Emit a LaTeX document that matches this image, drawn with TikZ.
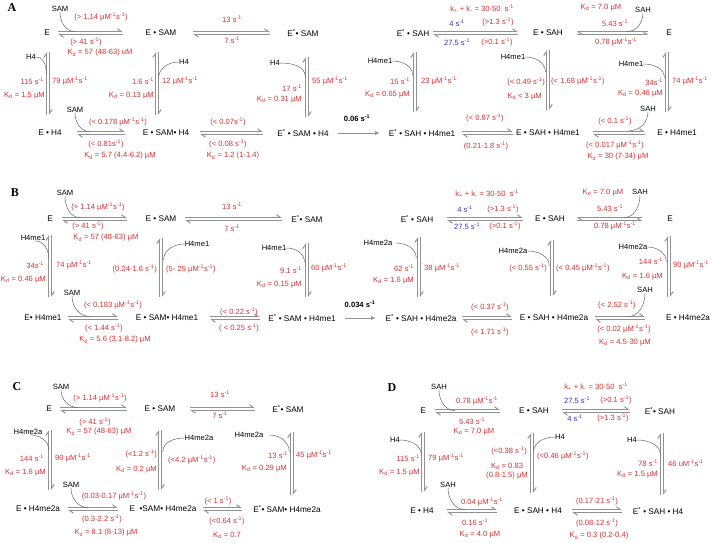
\documentclass[tikz,border=0pt]{standalone}
\usepackage{fontspec}
\setmainfont{Liberation Sans}
\newfontfamily\panelfont{Liberation Serif}
\usepackage{xcolor}
\usetikzlibrary{arrows.meta}

\definecolor{rateRed}{RGB}{214,48,48}
\definecolor{rateBlue}{RGB}{50,50,200}
\definecolor{arrGray}{RGB}{145,145,145}

\newcommand{\perS}{s\textsuperscript{-1}}
\newcommand{\perMS}{µM\textsuperscript{-1}s\textsuperscript{-1}}
\newcommand{\Kd}{K\textsubscript{d}}
\newcommand{\Estar}{E\textsuperscript{*}}
\newcommand{\kpm}{k\textsubscript{+} + k\textsubscript{-} = 30-50\ \ \perS}

\begin{document}
\begin{tikzpicture}[x=1pt,y=-1pt,font=\fontsize{7.6}{9}\selectfont,
    sp/.style={inner sep=0pt,font=\fontsize{8.2}{9.5}\selectfont},
    sub/.style={inner sep=0pt},
    rate/.style={inner sep=0pt,text=rateRed},
    fast/.style={inner sep=0pt,text=rateBlue},
    tag/.style={inner sep=0pt,font=\panelfont\bfseries\fontsize{12}{12}\selectfont},
    eqh/.style={preaction={draw=arrGray,line width=1pt,-{Straight Barb[left,length=4pt,width=6pt]},transform canvas={yshift=1.3pt}},
                preaction={draw=arrGray,line width=1pt,{Straight Barb[left,length=4pt,width=6pt]}-,transform canvas={yshift=-1.3pt}}},
    eqv/.style={preaction={draw=arrGray,line width=1pt,-{Straight Barb[left,length=4pt,width=6pt]},transform canvas={xshift=1.3pt}},
                preaction={draw=arrGray,line width=1pt,{Straight Barb[left,length=4pt,width=6pt]}-,transform canvas={xshift=-1.3pt}}},
    one/.style={draw=arrGray,line width=0.9pt,-{Latex[length=5pt,width=4pt]}},
    bind/.style={draw=black!60,line width=0.5pt}]
  \useasboundingbox (0,0) rectangle (713,542);

  % ---------------- Panel A ----------------
  \node[tag] (tA) at (12,8) {A};
  % species
  \node[sp] (A1) at (47,33) {E};
  \node[sp] (A2) at (161,33) {E \textbullet{} SAM};
  \node[sp] (A3) at (303,33) {\Estar\textbullet{} SAM};
  \node[sp] (A4) at (413,33) {\Estar{} \textbullet{} SAH};
  \node[sp] (A5) at (548,33) {E \textbullet{} SAH};
  \node[sp] (A6) at (669,33) {E};
  \node[sp] (A7) at (50,133) {E \textbullet{} H4};
  \node[sp] (A8) at (166,133) {E \textbullet{} SAM\textbullet{} H4};
  \node[sp] (A9) at (303,133) {\Estar{} \textbullet{} SAM \textbullet{} H4};
  \node[sp] (A10) at (422,133) {\Estar{} \textbullet{} SAH \textbullet{} H4me1};
  \node[sp] (A11) at (548,133) {E \textbullet{} SAH \textbullet{} H4me1};
  \node[sp] (A12) at (677,133) {E \textbullet{} H4me1};
  % horizontal steps
  \path[eqh,shorten <=11pt,shorten >=38pt] (A1.center) -- (A2.center);
  \path[eqh,shorten <=32pt,shorten >=33pt] (A2.center) -- (A3.center);
  \path[eqh,shorten <=20pt,shorten >=30pt] (A4.center) -- (A5.center);
  \path[eqh,shorten <=21pt,shorten >=29pt] (A6.center) -- (A5.center);
  \path[eqh,shorten <=27pt,shorten >=41pt] (A7.center) -- (A8.center);
  \path[eqh,shorten <=34pt,shorten >=40pt] (A8.center) -- (A9.center);
  \draw[one,shorten <=35pt,shorten >=42pt] (A9.center) -- (A10.center);
  \path[eqh,shorten <=40pt,shorten >=35pt] (A10.center) -- (A11.center);
  \path[eqh,shorten <=45pt,shorten >=32pt] (A11.center) -- (A12.center);
  % vertical steps
  \path[eqv,shorten <=19pt,shorten >=18pt] ([xshift=1pt]A1.center) -- ([xshift=1pt]A1.center |- A7.center);
  \path[eqv,shorten <=19pt,shorten >=18pt] ([xshift=-4pt]A2.center) -- ([xshift=-4pt]A2.center |- A8.center);
  \path[eqv,shorten <=24pt,shorten >=16pt] ([xshift=4pt]A3.center) -- ([xshift=4pt]A3.center |- A9.center);
  \path[eqv,shorten <=19pt,shorten >=21pt] ([xshift=2pt]A4.center) -- ([xshift=2pt]A4.center |- A10.center);
  \path[eqv,shorten <=17pt,shorten >=23pt] (A5.center) -- (A11.center);
  \path[eqv,shorten <=19pt,shorten >=21pt] ([xshift=-2pt]A6.center) -- ([xshift=-2pt]A6.center |- A12.center);
  % substrates
  \node[sub] (sA1) at (60,9) {SAM};
  \draw[bind] (sA1.south) to[out=-90,in=180] ++(15,19.7);
  \node[sub] (sA2) at (643,10) {SAH};
  \draw[bind] (sA2.south) to[out=-90,in=0] ++(-16,18.7);
  \node[sub] (sA3) at (31,57) {H4};
  \draw[bind] (sA3.east) to[out=0,in=90] ++(10.3,17);
  \node[sub] (sA4) at (75,110) {SAM};
  \draw[bind] (sA4.south) to[out=-90,in=180] ++(15,18.7);
  \node[sub] (sA5) at (184,62) {H4};
  \draw[bind] (sA5.west) to[out=180,in=90] ++(-20.3,16);
  \node[sub] (sA6) at (275,63) {H4};
  \draw[bind] (sA6.east) to[out=0,in=90] ++(25.3,14);
  \node[sub] (sA7) at (380,61) {H4me1};
  \draw[bind] (sA7.east) to[out=0,in=90] ++(20,14);
  \node[sub] (sA8) at (513,57) {H4me1};
  \draw[bind] (sA8.east) to[out=0,in=90] ++(20,15);
  \node[sub] (sA9) at (631,64) {H4me1};
  \draw[bind] (sA9.east) to[out=0,in=90] ++(21,14);
  \node[sub] (sA10) at (648,109) {SAH};
  \draw[bind] (sA10.south) to[out=-90,in=0] ++(-18,18.7);
  % rates
  \node[rate] (rA1) at (101,17) {(> 1.14 \perMS)};
  \node[rate] (rA2) at (86,42) {(> 41 \perS)};
  \node[rate] (rA3) at (100,53) {\Kd{} = 57 (48-63) uM};
  \node[rate] (rA4) at (232,19) {13 \perS};
  \node[rate] (rA5) at (232,40) {7 \perS};
  \node[rate] (rA6) at (482,9) {\kpm};
  \node[fast] (rA7) at (457,23) {4 \perS};
  \node[rate] (rA8) at (498,22) {(>1.3 \perS)};
  \node[fast] (rA9) at (457,42) {27.5 \perS};
  \node[rate] (rA10) at (497,42) {(>0.1 \perS)};
  \node[rate] (rA11) at (601,8) {\Kd{} = 7.0 µM};
  \node[rate] (rA12) at (615,23) {5.43 \perS};
  \node[rate] (rA13) at (616,42) {0.78 \perMS};
  \node[rate,anchor=east] (rA14) at (44,81) {115 \perS};
  \node[rate,anchor=west] (rA15) at (52,81) {79 \perMS};
  \node[rate,anchor=east] (rA16) at (45,96) {\Kd{} = 1.5 µM};
  \node[rate] (rA17) at (118,122) {(< 0.178 \perMS)};
  \node[rate] (rA18) at (106,144) {(< 0.81\perS)};
  \node[rate] (rA19) at (120,156) {\Kd{} = 5.7 (4.4-6.2) µM};
  \node[rate,anchor=east] (rA20) at (154,81) {1.6 \perS};
  \node[rate,anchor=west] (rA21) at (162,81) {12 \perMS};
  \node[rate,anchor=east] (rA22) at (154,96) {\Kd{} = 0.13 µM};
  \node[rate] (rA23) at (228,122) {(< 0.07\perS)};
  \node[rate] (rA24) at (228,144) {(< 0.08 \perS)};
  \node[rate] (rA25) at (233,156) {\Kd{} = 1.2 (1-1.4)};
  \node[rate,anchor=east] (rA26) at (302,88) {17 \perS};
  \node[rate,anchor=west] (rA27) at (312,81) {55 \perMS};
  \node[rate,anchor=east] (rA28) at (302,100) {\Kd{} = 0.31 µM};
  \node[rate,anchor=east] (rA29) at (410,81) {15 \perS};
  \node[rate,anchor=west] (rA30) at (421,81) {23 \perMS};
  \node[rate,anchor=east] (rA31) at (410,95) {\Kd{} = 0.65 µM};
  \node[sub] (rA32) at (357,118) {\textbf{0.06 \perS}};
  \node[rate,anchor=east] (rA33) at (545,82) {(< 0.49 \perS)};
  \node[rate,anchor=west] (rA34) at (551,81) {(< 1.68 \perMS)};
  \node[rate,anchor=east] (rA35) at (542,97) {\Kd{} < 3 µM};
  \node[rate,anchor=east] (rA36) at (663,82) {34\perS};
  \node[rate,anchor=west] (rA37) at (672,81) {74 \perMS};
  \node[rate,anchor=east] (rA38) at (663,94) {\Kd{} = 0.46 µM};
  \node[rate] (rA39) at (485,118) {(< 0.87 \perS)};
  \node[rate] (rA40) at (486,146) {(0.21-1.8 \perS)};
  \node[rate] (rA41) at (615,121) {(< 0.1 \perS)};
  \node[rate] (rA42) at (615,145) {(< 0.017 \perMS)};
  \node[rate] (rA43) at (618,157) {\Kd{} = 30 (7-34) µM};

  % ---------------- Panel B ----------------
  \node[tag] (tB) at (15,193) {B};
  % species
  \node[sp] (B1) at (50,219) {E};
  \node[sp] (B2) at (161,219) {E \textbullet{} SAM};
  \node[sp] (B3) at (307,219) {\Estar\textbullet{} SAM};
  \node[sp] (B4) at (417,219) {\Estar{} \textbullet{} SAH};
  \node[sp] (B5) at (550,219) {E \textbullet{} SAH};
  \node[sp] (B6) at (670,219) {E};
  \node[sp] (B7) at (43,318) {E\textbullet{} H4me1};
  \node[sp] (B8) at (167,318) {E \textbullet{} SAM\textbullet{} H4me1};
  \node[sp] (B9) at (302,318) {\Estar{} \textbullet{} SAM \textbullet{} H4me1};
  \node[sp] (B10) at (421,318) {\Estar{} \textbullet{} SAH \textbullet{} H4me2a};
  \node[sp] (B11) at (554,318) {E \textbullet{} SAH \textbullet{} H4me2a};
  \node[sp] (B12) at (688,318) {E \textbullet{} H4me2a};
  % horizontal steps
  \path[eqh,shorten <=12pt,shorten >=34pt] (B1.center) -- (B2.center);
  \path[eqh,shorten <=24pt,shorten >=25pt] (B2.center) -- (B3.center);
  \path[eqh,shorten <=30pt,shorten >=27pt] (B4.center) -- (B5.center);
  \path[eqh,shorten <=28pt,shorten >=27pt] (B6.center) -- (B5.center);
  \path[eqh,shorten <=25pt,shorten >=49pt] (B7.center) -- (B8.center);
  \path[eqh,shorten <=43pt,shorten >=42pt] (B8.center) -- (B9.center);
  \draw[one,shorten <=43pt,shorten >=45pt] (B9.center) -- (B10.center);
  \path[eqh,shorten <=41pt,shorten >=42pt] (B10.center) -- (B11.center);
  \path[eqh,shorten <=41pt,shorten >=43pt] (B11.center) -- (B12.center);
  % vertical steps
  \path[eqv,shorten <=16pt,shorten >=21pt] (B1.center) -- (B1.center |- B7.center);
  \path[eqv,shorten <=19pt,shorten >=21pt] (B2.center) -- (B2.center |- B8.center);
  \path[eqv,shorten <=24pt,shorten >=21pt] (B3.center) -- (B3.center |- B9.center);
  \path[eqv,shorten <=18pt,shorten >=21pt] ([xshift=2pt]B4.center) -- ([xshift=2pt]B4.center |- B10.center);
  \path[eqv,shorten <=21pt,shorten >=22pt] ([xshift=2pt]B5.center) -- ([xshift=2pt]B5.center |- B11.center);
  \path[eqv,shorten <=17pt,shorten >=21pt] ([xshift=-1pt]B6.center) -- ([xshift=-1pt]B6.center |- B12.center);
  % substrates
  \node[sub] (sB1) at (65,193) {SAM};
  \draw[bind] (sB1.south) to[out=-90,in=180] ++(15,21.7);
  \node[sub] (sB2) at (640,192) {SAH};
  \draw[bind] (sB2.south) to[out=-90,in=0] ++(-16,22.7);
  \node[sub] (sB3) at (33,238) {H4me1};
  \draw[bind] ([xshift=2pt]sB3.south) to[out=0,in=90] ++(13.7,17);
  \node[sub] (sB4) at (197,244) {H4me1};
  \draw[bind] (sB4.west) to[out=180,in=90] ++(-21,16);
  \node[sub] (sB5) at (274,248) {H4me1};
  \draw[bind] (sB5.east) to[out=0,in=90] ++(18,14);
  \node[sub] (sB6) at (378,243) {H4me2a};
  \draw[bind] ([xshift=3pt]sB6.east) to[out=0,in=90] ++(20.7,15);
  \node[sub] (sB7) at (513,251) {H4me2a};
  \draw[bind] (sB7.east) to[out=0,in=90] ++(21.7,15);
  \node[sub] (sB8) at (633,247) {H4me2a};
  \draw[bind] (sB8.east) to[out=0,in=90] ++(18.7,15);
  \node[sub] (sB9) at (72,293) {SAM};
  \draw[bind] (sB9.south) to[out=-90,in=180] ++(18,20.7);
  \node[sub] (sB10) at (645,290) {SAH};
  \draw[bind] (sB10.south) to[out=-90,in=0] ++(-17,23.7);
  % rates
  \node[rate] (rB1) at (98,207) {(> 1.14 \perMS)};
  \node[rate] (rB2) at (88,226) {(> 41 \perS)};
  \node[rate] (rB3) at (106,238) {\Kd{} = 57 (48-63) µM};
  \node[rate] (rB4) at (232,206) {13 \perS};
  \node[rate] (rB5) at (232,228) {7 \perS};
  \node[rate] (rB6) at (487,194) {\kpm};
  \node[fast] (rB7) at (465,209) {4 \perS};
  \node[rate] (rB8) at (503,209) {(>1.3 \perS)};
  \node[fast] (rB9) at (467,226) {27.5 \perS};
  \node[rate] (rB10) at (505,226) {(>0.1 \perS)};
  \node[rate] (rB11) at (603,193) {\Kd{} = 7.0 µM};
  \node[rate] (rB12) at (610,208) {5.43 \perS};
  \node[rate] (rB13) at (615,226) {0.78 \perMS};
  \node[rate,anchor=east] (rB14) at (44,265) {34\perS};
  \node[rate,anchor=west] (rB15) at (56,265) {74 \perMS};
  \node[rate,anchor=east] (rB16) at (46,280) {\Kd{} = 0.46 µM};
  \node[rate,anchor=east] (rB17) at (157,269) {(0.24-1.6 \perS)};
  \node[rate,anchor=west] (rB18) at (166,269) {(5- 25 \perMS)};
  \node[rate,anchor=east] (rB19) at (302,270) {9.1 \perS};
  \node[rate,anchor=west] (rB20) at (311,268) {60 \perMS};
  \node[rate,anchor=east] (rB21) at (302,285) {\Kd{} = 0.15 µM};
  \node[rate,anchor=east] (rB22) at (414,268) {62 \perS};
  \node[rate,anchor=west] (rB23) at (424,268) {38 \perMS};
  \node[rate,anchor=east] (rB24) at (414,281) {\Kd{} = 1.6 µM};
  \node[rate,anchor=east] (rB25) at (547,268) {(< 0.55 \perS)};
  \node[rate,anchor=west] (rB26) at (556,268) {(< 0.45 \perMS)};
  \node[rate,anchor=east] (rB27) at (663,261) {144 \perS};
  \node[rate,anchor=west] (rB28) at (673,265) {90 \perMS};
  \node[rate,anchor=east] (rB29) at (663,277) {\Kd{} = 1.6 µM};
  \node[rate] (rB30) at (113,305) {(< 0.183 \perMS)};
  \node[rate] (rB31) at (104,328) {(< 1.44 \perS)};
  \node[rate] (rB32) at (115,340) {\Kd{} = 5.6 (3.1-8.2) µM};
  \node[rate] (rB33) at (239,312) {(< 0.22 \perS)};
  \node[rate] (rB34) at (239,328) {( < 0.25 \perS)};
  \node[sub] (rB35) at (360,304) {\textbf{0.034 \perS}};
  \node[rate] (rB36) at (490,307) {(< 0.37 \perS)};
  \node[rate] (rB37) at (490,332) {(< 1.71 \perS)};
  \node[rate] (rB38) at (617,305) {(< 2.52 \perS)};
  \node[rate] (rB39) at (624,329) {(< 0.02 \perMS)};
  \node[rate] (rB40) at (625,343) {\Kd{} = 4.5-30 µM};

  % ---------------- Panel C ----------------
  \node[tag] (tC) at (17,387) {C};
  % species
  \node[sp] (C1) at (49,409) {E};
  \node[sp] (C2) at (160,409) {E \textbullet{} SAM};
  \node[sp] (C3) at (288,409) {\Estar\textbullet{} SAM};
  \node[sp] (C4) at (38,509) {E \textbullet{} H4me2a};
  \node[sp] (C5) at (163,509) {E \ \textbullet{}SAM\textbullet{} H4me2a};
  \node[sp] (C6) at (287,509) {\Estar\textbullet{} SAM\textbullet{} H4me2a};
  % horizontal steps
  \path[eqh,shorten <=11pt,shorten >=33pt] (C1.center) -- (C2.center);
  \path[eqh,shorten <=30pt,shorten >=33pt] (C2.center) -- (C3.center);
  \path[eqh,shorten <=30pt,shorten >=45pt] (C4.center) -- (C5.center);
  \path[eqh,shorten <=40pt,shorten >=45pt] (C5.center) -- (C6.center);
  % vertical steps
  \path[eqv,shorten <=21pt,shorten >=19pt] ([xshift=1pt]C1.center) -- ([xshift=1pt]C1.center |- C4.center);
  \path[eqv,shorten <=21pt,shorten >=19pt] (C2.center) -- (C2.center |- C5.center);
  \path[eqv,shorten <=23pt,shorten >=14pt] ([xshift=4pt]C3.center) -- ([xshift=4pt]C3.center |- C6.center);
  % substrates
  \node[sub] (sC1) at (61,387) {SAM};
  \draw[bind] (sC1.south) to[out=-90,in=180] ++(17,17.7);
  \node[sub] (sC2) at (28,432) {H4me2a};
  \draw[bind] ([xshift=2pt]sC2.south) to[out=0,in=90] ++(18.7,15);
  \node[sub] (sC3) at (199,438) {H4me2a};
  \draw[bind] (sC3.west) to[out=180,in=90] ++(-21.7,14);
  \node[sub] (sC4) at (249,435) {H4me2a};
  \draw[bind] ([xshift=6pt]sC4.east) to[out=0,in=90] ++(19.7,17);
  \node[sub] (sC5) at (71,485) {SAM};
  \draw[bind] (sC5.south) to[out=-90,in=180] ++(17,19.7);
  % rates
  \node[rate] (rC1) at (100,398) {(> 1.14 \perMS)};
  \node[rate] (rC2) at (95,422) {(> 41 \perS)};
  \node[rate] (rC3) at (99,432) {\Kd{} = 57 (48-63) µM};
  \node[rate] (rC4) at (220,394) {13 \perS};
  \node[rate] (rC5) at (220,415) {7 \perS};
  \node[rate,anchor=east] (rC6) at (44,458) {144 \perS};
  \node[rate,anchor=west] (rC7) at (55,458) {90 \perMS};
  \node[rate,anchor=east] (rC8) at (46,473) {\Kd{} = 1.6 µM};
  \node[rate,anchor=east] (rC9) at (157,454) {(<1.2 \perS)};
  \node[rate,anchor=west] (rC10) at (168,460) {(<4.2 \perMS)};
  \node[rate,anchor=east] (rC11) at (157,470) {\Kd{} = 0.2 µM};
  \node[rate,anchor=east] (rC12) at (288,455) {13 \perS};
  \node[rate,anchor=west] (rC13) at (296,455) {45 \perMS};
  \node[rate,anchor=east] (rC14) at (287,469) {\Kd{} = 0.29 µM};
  \node[rate] (rC15) at (114,496) {(0.03-0.17 \perMS)};
  \node[rate] (rC16) at (102,519) {(0.3-2.2 \perS)};
  \node[rate] (rC17) at (106,533) {\Kd{} = 8.1 (8-13) µM};
  \node[rate] (rC18) at (218,501) {(< 1 \perS)};
  \node[rate] (rC19) at (227,521) {(<0.64 \perS)};
  \node[rate] (rC20) at (227,535) {\Kd{} = 0.7};

  % ---------------- Panel D ----------------
  \node[tag] (tD) at (392,388) {D};
  % species
  \node[sp] (D1) at (423,411) {E};
  \node[sp] (D2) at (534,411) {E \textbullet{} SAH};
  \node[sp] (D3) at (660,411) {\Estar\textbullet{} SAH};
  \node[sp] (D4) at (422,511) {E \textbullet{} H4};
  \node[sp] (D5) at (538,511) {E \textbullet{} SAH \textbullet{} H4};
  \node[sp] (D6) at (658,511) {\Estar{} \textbullet{} SAH \textbullet{} H4};
  % horizontal steps
  \path[eqh,shorten <=12pt,shorten >=34pt] (D1.center) -- (D2.center);
  \path[eqh,shorten <=28pt,shorten >=30pt] (D2.center) -- (D3.center);
  \path[eqh,shorten <=25pt,shorten >=41pt] (D4.center) -- (D5.center);
  \path[eqh,shorten <=34pt,shorten >=36pt] (D5.center) -- (D6.center);
  % vertical steps
  \path[eqv,shorten <=21pt,shorten >=19pt] (D1.center) -- (D1.center |- D4.center);
  \path[eqv,shorten <=22pt,shorten >=18pt] ([xshift=-2pt]D2.center) -- ([xshift=-2pt]D2.center |- D5.center);
  \path[eqv,shorten <=22pt,shorten >=16pt] ([xshift=2pt]D3.center) -- ([xshift=2pt]D3.center |- D6.center);
  % substrates
  \node[sub] (sD1) at (439,387) {SAH};
  \draw[bind] (sD1.south) to[out=-90,in=180] ++(16,20.7);
  \node[sub] (sD2) at (395,440) {H4};
  \draw[bind] (sD2.east) to[out=0,in=90] ++(21.3,15);
  \node[sub] (sD3) at (560,437) {H4};
  \draw[bind] (sD3.west) to[out=180,in=90] ++(-21.3,15);
  \node[sub] (sD4) at (632,440) {H4};
  \draw[bind] (sD4.east) to[out=0,in=90] ++(23.3,15);
  \node[sub] (sD5) at (448,485) {SAH};
  \draw[bind] (sD5.south) to[out=-90,in=180] ++(17,21.7);
  % rates
  \node[rate] (rD1) at (477,401) {0.78 \perMS};
  \node[rate] (rD2) at (472,421) {5.43 \perS};
  \node[rate] (rD3) at (474,432) {\Kd{} = 7.0 µM};
  \node[rate] (rD4) at (596,387) {\kpm};
  \node[fast] (rD5) at (577,400) {27.5 \perS};
  \node[rate] (rD6) at (616,400) {(>0.1 \perS)};
  \node[fast] (rD7) at (575,418) {4 \perS};
  \node[rate] (rD8) at (613,418) {(>1.3 \perS)};
  \node[rate,anchor=east] (rD9) at (420,458) {115 \perS};
  \node[rate,anchor=west] (rD10) at (428,458) {79 \perMS};
  \node[rate,anchor=east] (rD11) at (420,473) {\Kd{} = 1.5 µM};
  \node[rate,anchor=east] (rD12) at (527,451) {(<0.38 \perS)};
  \node[rate,anchor=west] (rD13) at (537,456) {(<0.46 \perMS)};
  \node[rate,align=center] (rD14) at (507,471) {\Kd{} = 0.83\\(0.8-1.5) µM};
  \node[rate,anchor=east] (rD15) at (658,463) {78 \perS};
  \node[rate,anchor=west] (rD16) at (668,463) {46 uM\textsuperscript{-1}s\textsuperscript{-1}};
  \node[rate,anchor=east] (rD17) at (658,475) {\Kd{} = 1.5 µM};
  \node[rate] (rD18) at (482,502) {0.04 \perMS};
  \node[rate] (rD19) at (475,522) {0.16 \perS};
  \node[rate] (rD20) at (480,535) {\Kd{} = 4.0 µM};
  \node[rate] (rD21) at (597,501) {(0.17-21 \perS)};
  \node[rate] (rD22) at (597,523) {(0.08-12 \perS)};
  \node[rate] (rD23) at (599,536) {\Kd{} = 0.3 (0.2-0.4)};
\end{tikzpicture}
\end{document}
